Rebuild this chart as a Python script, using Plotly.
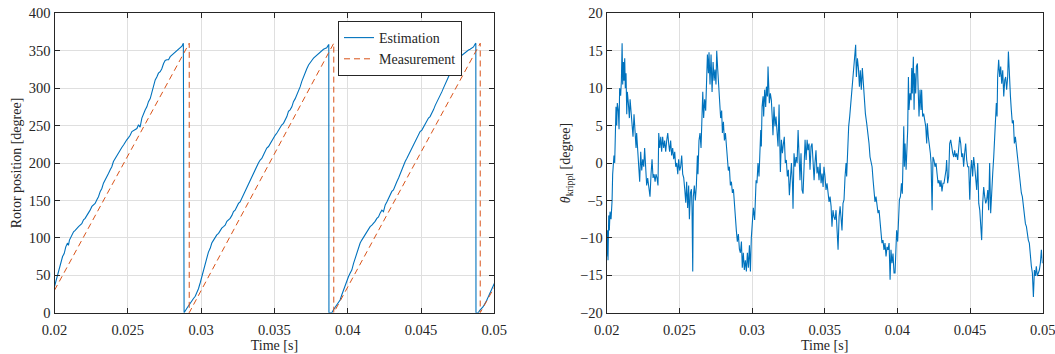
import plotly.graph_objects as go

# ---------------- data (time in ms, angles in degree) ----------------
est_t_ms = [
    20.00, 20.11, 20.20, 20.32, 20.43, 20.55, 20.66, 20.77, 20.89, 20.95, 21.02, 21.11, 21.21, 21.30,
    21.41, 21.52, 21.64, 21.75, 21.86, 21.98, 22.09, 22.21, 22.32, 22.43, 22.55, 22.66, 22.77, 22.89,
    23.00, 23.12, 23.23, 23.34, 23.46, 23.57, 23.68, 23.80, 23.91, 24.02, 24.14, 24.25, 24.37, 24.48,
    24.60, 24.71, 24.82, 24.93, 25.05, 25.16, 25.28, 25.39, 25.50, 25.62, 25.73, 25.84, 25.96, 26.07,
    26.19, 26.30, 26.41, 26.53, 26.64, 26.75, 26.87, 26.98, 27.09, 27.21, 27.32, 27.44, 27.55, 27.66,
    27.78, 27.89, 28.00, 28.12, 28.23, 28.34, 28.46, 28.57, 28.69, 28.79, 28.80, 28.81, 28.82, 28.84,
    29.03, 29.25, 29.48, 29.60, 29.71, 29.82, 29.94,
    30.05, 30.16, 30.28, 30.39, 30.50, 30.62, 30.73, 30.85, 30.96, 31.07, 31.19, 31.30, 31.41, 31.53,
    31.64, 31.76, 31.87, 31.98, 32.10, 32.21, 32.32, 32.44, 32.55, 32.66, 32.78, 32.89, 33.01, 33.12,
    33.23, 33.35, 33.46, 33.57, 33.69, 33.80, 33.91, 34.03, 34.14, 34.26, 34.37, 34.48, 34.60, 34.71,
    34.82, 34.94, 35.05, 35.17, 35.28, 35.39, 35.51, 35.62, 35.73, 35.85, 35.96, 36.07, 36.19, 36.30,
    36.42, 36.53, 36.64, 36.76, 36.87, 36.98, 37.10, 37.21, 37.33, 37.44, 37.55, 37.67, 37.78, 37.89,
    38.01, 38.12, 38.23, 38.35, 38.46, 38.57, 38.69, 38.71, 38.72, 38.92, 39.03, 39.26, 39.48,
    39.60, 39.71, 39.83, 39.94, 40.05, 40.17, 40.28, 40.40, 40.51, 40.62, 40.74, 40.85, 40.96, 41.08,
    41.19, 41.30, 41.42, 41.53, 41.65, 41.76, 41.87, 41.99, 42.10, 42.21, 42.33, 42.44, 42.56, 42.67,
    42.78, 42.90, 43.01, 43.12, 43.24, 43.35, 43.47, 43.58, 43.69, 43.81, 43.92, 44.03, 44.15, 44.26,
    44.37, 44.49, 44.60, 44.72, 44.83, 44.94, 45.06, 45.17, 45.28, 45.40, 45.51, 45.62, 45.74, 45.85,
    45.97, 46.08, 46.19, 46.31, 46.42, 46.53, 46.65, 46.76, 46.87, 46.99, 47.10, 47.22, 47.33, 47.44,
    47.56, 47.67, 47.78, 47.90, 48.01, 48.12, 48.24, 48.35, 48.47, 48.58, 48.69, 48.74, 48.75, 48.90,
    49.01, 49.24, 49.47, 49.69, 49.92, 50.00,
]
est_deg = [
    35, 43, 50, 57, 66, 75, 79, 88, 93, 90, 97, 101, 106, 108,
    110, 113, 115, 117, 119, 124, 126, 130, 133, 137, 142, 144, 146, 151,
    155, 162, 166, 173, 177, 182, 186, 191, 195, 202, 206, 211, 214, 217,
    221, 224, 228, 231, 234, 237, 242, 243, 244, 246, 251, 248, 260, 266,
    271, 275, 282, 286, 295, 304, 311, 315, 320, 322, 326, 333, 337, 338,
    338, 342, 344, 346, 349, 351, 352, 354, 356, 360, 0, 358, 0, 0,
    6, 13, 19, 22, 26, 32, 40,
    48, 57, 64, 73, 81, 86, 93, 97, 101, 104, 106, 110, 113, 115,
    117, 122, 124, 126, 130, 135, 137, 142, 146, 148, 153, 157, 164, 168,
    173, 177, 182, 186, 191, 195, 200, 204, 206, 211, 215, 220, 222, 226,
    228, 233, 237, 240, 244, 246, 251, 253, 257, 262, 269, 271, 275, 282,
    286, 291, 295, 302, 309, 315, 320, 326, 331, 335, 337, 340, 342, 344,
    346, 349, 351, 352, 353, 354, 358, 358, 0, 0, 4, 10, 17,
    24, 30, 37, 44, 48, 53, 57, 66, 73, 79, 86, 93, 97, 101,
    104, 108, 113, 115, 117, 119, 122, 126, 128, 133, 137, 135, 144, 148,
    153, 157, 162, 164, 171, 175, 180, 186, 191, 197, 202, 206, 211, 215,
    220, 224, 228, 233, 237, 242, 244, 248, 253, 257, 260, 262, 266, 271,
    277, 282, 286, 291, 295, 300, 306, 311, 315, 320, 324, 331, 337, 340,
    342, 342, 344, 346, 347, 349, 351, 352, 353, 355, 359, 360, 0, 0,
    3, 8, 16, 25, 35, 39,
]

meas_t_ms = [20.00, 29.19, 29.19, 39.05, 39.05, 49.04, 49.04, 50.00]
meas_deg = [30, 360, 0, 360, 0, 360, 0, 34]

ripple_t_ms = [
    20.00, 20.05, 20.09, 20.14, 20.18, 20.23, 20.30, 20.37, 20.41, 20.46, 20.50, 20.55, 20.60, 20.64,
    20.69, 20.73, 20.80, 20.85, 20.89, 20.96, 21.01, 21.06, 21.10, 21.15, 21.19, 21.24, 21.28, 21.33,
    21.38, 21.42, 21.49, 21.56, 21.61, 21.67, 21.74, 21.81, 21.88, 21.95, 22.02, 22.06, 22.13, 22.20,
    22.27, 22.34, 22.41, 22.48, 22.55, 22.61, 22.68, 22.75, 22.82, 22.89, 22.98, 23.05, 23.12, 23.19,
    23.26, 23.33, 23.39, 23.46, 23.53, 23.58, 23.65, 23.72, 23.78, 23.85, 23.92, 23.99, 24.06, 24.13,
    24.20, 24.27, 24.33, 24.40, 24.47, 24.54, 24.61, 24.68, 24.75, 24.82, 24.89, 24.95, 25.02, 25.09,
    25.16, 25.23, 25.30, 25.37, 25.44, 25.50, 25.57, 25.64, 25.69, 25.76, 25.83, 25.87, 25.92, 25.96,
    26.03, 26.10, 26.17, 26.24, 26.28, 26.35, 26.42, 26.49, 26.56, 26.61, 26.67, 26.74, 26.81, 26.88,
    26.93, 27.00, 27.04, 27.11, 27.18, 27.25, 27.32, 27.39, 27.45, 27.52, 27.57, 27.64, 27.71, 27.78,
    27.84, 27.91, 27.96, 28.03, 28.10, 28.17, 28.23, 28.30, 28.37, 28.44, 28.51, 28.58, 28.65, 28.72,
    28.78, 28.85, 28.92, 28.99, 29.06, 29.13, 29.20, 29.27, 29.33, 29.40, 29.47, 29.54, 29.61, 29.68,
    29.75, 29.82, 29.89, 29.95, 30.02, 30.09,
    30.18, 30.23, 30.28, 30.34, 30.41, 30.48, 30.55, 30.60, 30.64, 30.69, 30.76, 30.80, 30.87, 30.94,
    30.99, 31.06, 31.10, 31.15, 31.19, 31.26, 31.33, 31.40, 31.44, 31.51, 31.58, 31.65, 31.72, 31.79,
    31.86, 31.90, 31.95, 32.02, 32.09, 32.16, 32.22, 32.29, 32.36, 32.43, 32.50, 32.57, 32.64, 32.71,
    32.78, 32.82, 32.89, 32.96, 33.03, 33.10, 33.17, 33.23, 33.30, 33.37, 33.44, 33.51, 33.58, 33.65,
    33.72, 33.79, 33.85, 33.92, 33.99, 34.06, 34.13, 34.20, 34.27, 34.33, 34.40, 34.47, 34.54, 34.61,
    34.68, 34.75, 34.82, 34.89, 34.95, 35.02, 35.09, 35.16, 35.23, 35.30, 35.37, 35.44, 35.50, 35.57,
    35.64, 35.71, 35.78, 35.85, 35.92, 35.99, 36.06, 36.12, 36.19, 36.26, 36.33, 36.40, 36.47, 36.51,
    36.58, 36.65, 36.72, 36.81, 36.88, 36.97, 37.06, 37.13, 37.18, 37.25, 37.32, 37.39, 37.45, 37.52,
    37.59, 37.66, 37.73, 37.80, 37.89, 37.98, 38.05, 38.12, 38.19, 38.26, 38.33, 38.39, 38.46, 38.53,
    38.60, 38.67, 38.74, 38.81, 38.88, 38.94, 39.01, 39.08, 39.15, 39.22, 39.29, 39.36, 39.43, 39.50,
    39.56, 39.63, 39.70, 39.77,
    39.84, 39.89, 39.95, 40.02, 40.09, 40.14, 40.21, 40.28, 40.34, 40.39, 40.44, 40.48, 40.53, 40.60,
    40.64, 40.71, 40.76, 40.80, 40.87, 40.94, 40.99, 41.03, 41.10, 41.15, 41.19, 41.26, 41.31, 41.38,
    41.44, 41.49, 41.56, 41.63, 41.67, 41.74, 41.81, 41.88, 41.95, 42.02, 42.06, 42.13, 42.20, 42.27,
    42.32, 42.39, 42.45, 42.52, 42.59, 42.66, 42.73, 42.80, 42.87, 42.94, 43.00, 43.07, 43.14, 43.21,
    43.28, 43.35, 43.39, 43.46, 43.53, 43.60, 43.67, 43.74, 43.81, 43.88, 43.94, 44.01, 44.08, 44.15,
    44.22, 44.29, 44.36, 44.43, 44.50, 44.56, 44.63, 44.70, 44.77, 44.84, 44.91, 44.98, 45.05, 45.11,
    45.18, 45.25, 45.32, 45.39, 45.46, 45.53, 45.60, 45.67, 45.73, 45.80, 45.87, 45.94, 46.01, 46.08,
    46.15, 46.22, 46.28, 46.35, 46.42, 46.49, 46.56, 46.63, 46.70, 46.77, 46.81, 46.86, 46.90, 46.97,
    47.04, 47.11, 47.18, 47.25, 47.32, 47.39, 47.45, 47.52, 47.59, 47.64, 47.71, 47.78, 47.84, 47.91,
    47.98, 48.05, 48.12, 48.19, 48.26, 48.33, 48.39, 48.46, 48.53, 48.60, 48.67, 48.74, 48.81, 48.88,
    48.94, 49.01, 49.08, 49.15, 49.22, 49.29, 49.36, 49.43, 49.50, 49.56, 49.63, 49.70, 49.77, 49.84,
    49.91, 49.98,
]
ripple_deg = [
    -12.5, -9, -13, -7, -9, -6.5, -7.5, -5, -1.5, -0.5, 1, 0, 3, 7.5,
    5, 8, 7, 4.5, 10, 9, 11, 16, 10.5, 13.5, 11, 14, 10, 12,
    6.5, 9.5, 8, 6, 8.5, 7, 6.5, 3.5, 6.5, 4, 2, 4, 2, 0.5,
    -2.5, 1.5, -1, 0.5, -0.5, 2, -1.5, -3, -2, -3, -4.5, -1.5, 0.5, -2,
    -1.5, -2.5, -1.5, -2, -3, 4, 2, 3.5, 1.5, 3.5, 2, 3, 1.5, 3,
    4, 2.5, 1.5, 3, 1, 2, 0.5, 1.5, -0.5, 0, -1.5, 0.5, -1, -0.5,
    1, -1.5, -2, -3.5, -5.3, -2.5, -6, -3, -7.5, -4, -3.5, -6, -14.5, -4.5,
    -3, -5, -3, 1, -1.5, 3, 4, 2, 8, 9.5, 6, 8.5, 7, 10.5,
    14.5, 12, 14.8, 10.5, 14.5, 9.5, 13.5, 11, 12.5, 10.5, 15, 12.5, 10, 9,
    6, 7, 4, 5.5, 3, 4, 2, 1, -1, -0.5, -3, -2.5, -4, -3.5,
    -5.5, -7, -9, -10.5, -9.5, -11.5, -12, -10.5, -14, -12, -14.3, -13, -14.5, -12,
    -14, -11, -14.5, -10, -8, -6,
    -7.6, -5.8, -2.3, -2.7, 0, -1.8, 2.2, 4.4, 2.2, 7.5, 8.9, 6.2, 9.8, 7.5,
    10.2, 8.9, 12.9, 10.6, 8.0, 9.3, 8.4, 5.7, 3.7, 7.5, 4.9, 6.2, 4.4, 2.2,
    7.8, 2.6, -1.2, 3.1, 1.3, 2.6, 3.5, 0, 0.4, -1.8, -0.9, -4.3, -1.4, 0,
    -2.7, -6.1, 1.3, -0.5, 0.8, 0, 4.4, 0, -2.3, 1.3, -3.6, -4.1, 0.8, 3.1,
    0.4, 3.1, 1.7, 2.6, -0.9, 2.2, 2.6, 0.8, -2.3, 0, 1.7, -1.4, -0.5, -2.3,
    0, -2.7, -1.4, -3.2, -0.5, -1.8, -3.6, -2.7, -4.1, -5.2, -4.5, -5.8, -8.5, -6.3,
    -7.2, -7.6, -6.3, -8.7, -11.6, -7.2, -5.8, -7.2, -9.0, -5.4, -4.9, -1.8, 0, -1.8,
    2.2, 4.9, 6.2, 8.4, 9.8, 11.1, 13.3, 15.8, 11.5, 14.0, 12.7, 10.2, 12.4, 9.8,
    12.7, 10.2, 8.9, 6.6, 5.3, 4.0, 2.6, 0.8, 0, -0.5, -2.3, -3.6, -5.2, -4.5,
    -5.8, -6.7, -6.3, -7.6, -9.0, -10.7, -10.3, -11.6, -10.7, -12.5, -11.2, -11.6, -10.7, -15.6,
    -11.6, -13.4, -12.1, -14.7,
    -14.7, -10.7, -9.0, -10.5, -8.0, -4.9, -4.5, -2.7, -4.1, 2.2, 4.9, -0.5, 2.6, -0.9,
    1.7, 4.4, 11.5, 7.1, 9.3, 8.4, 12.7, 9.3, 14.2, 7.1, 12.0, 9.3, 12.9, 13.3,
    9.3, 6.2, 9.8, 7.1, 9.8, 6.2, 6.6, 5.3, 4.9, 2.6, 5.3, 3.5, 2.6, 1.3,
    0, -6.3, 0.8, 0.4, -0.5, 0, -1.4, -2.7, -2.3, -3.2, -2.3, -3.8, -2.7, -2.7,
    -1.8, -0.9, 0.4, -2.7, -1.8, 2.6, 3.1, 1.7, 1.3, 0.8, 1.7, 0.8, 1.3, 0.4,
    2.2, 3.5, 2.6, 0.8, 1.3, -0.5, 1.3, 2.6, 0.4, -0.5, -0.5, -4.9, -0.9, 0.4,
    -1.8, 0.8, -0.5, -2.7, -3.6, 0, -5.4, -6.3, -8.1, -10.3, -5.4, -3.2, -4.5, -5.4,
    -4.9, -3.6, -6.3, 0, -6.7, -2.7, -1.4, 0.8, 3.5, 6.2, 8.0, 6.2, 11.5, 13.8,
    11.5, 12.9, 10.6, 12.4, 8.9, 11.1, 11.5, 9.8, 11.5, 14.9, 10.2, 8.9, 7.1, 5.3,
    5.7, 2.6, 3.5, 2.2, 1.3, 0.4, -0.9, -2.7, -4.0, -4.5, -5.8, -6.7, -8.1, -8.5,
    -9.4, -10.3, -10.7, -12.5, -13.8, -14.7, -17.9, -14.3, -15.1, -13.8, -15.1, -14.7, -14.3, -13.4,
    -11.6, -13.4,
]

x_ticks = [0.02, 0.025, 0.03, 0.035, 0.04, 0.045, 0.05]
x_tick_text = ["0.02", "0.025", "0.03", "0.035", "0.04", "0.045", "0.05"]
left_y_ticks = [0, 50, 100, 150, 200, 250, 300, 350, 400]
right_y_ticks = [-20, -15, -10, -5, 0, 5, 10, 15, 20]

# ---------------- figure ----------------
BLUE = "#0072BD"
ORANGE = "#D95319"
INK = "#262626"
GRID = "#dfdfdf"
FONT = "Liberation Serif"
W, H = 1055, 354

fig = go.Figure()
fig.add_trace(go.Scatter(
    x=[t / 1000 for t in est_t_ms], y=est_deg, mode="lines", name="Estimation",
    line=dict(color=BLUE, width=1.1), xaxis="x", yaxis="y"))
fig.add_trace(go.Scatter(
    x=[t / 1000 for t in meas_t_ms], y=meas_deg, mode="lines", name="Measurement",
    line=dict(color=ORANGE, width=1, dash="6px,4px"), xaxis="x", yaxis="y"))
fig.add_trace(go.Scatter(
    x=[t / 1000 for t in ripple_t_ms], y=ripple_deg, mode="lines", showlegend=False,
    line=dict(color=BLUE, width=1.1), xaxis="x2", yaxis="y2"))

TICKFONT = dict(family=FONT, size=14.5, color=INK)
TITLEFONT = dict(family=FONT, size=14, color=INK)

def xax(domain, anchor):
    return dict(domain=domain, anchor=anchor, range=[0.02, 0.05], tickvals=x_ticks,
                ticktext=x_tick_text, showgrid=True, gridcolor=GRID, gridwidth=1,
                zeroline=False, showline=True, linecolor=INK, linewidth=1, mirror="ticks",
                ticks="inside", ticklen=5, tickcolor=INK, tickwidth=1, automargin=False,
                ticklabelstandoff=4, ticklabeloverflow="allow", tickfont=TICKFONT,
                title=dict(text="Time [s]", font=TITLEFONT, standoff=3))

def yax(domain, anchor, rng, ticks, title, standoff):
    return dict(domain=domain, anchor=anchor, range=rng, tickvals=ticks,
                showgrid=True, gridcolor=GRID, gridwidth=1,
                zeroline=False, showline=True, linecolor=INK, linewidth=1, mirror="ticks",
                ticks="inside", ticklen=5, tickcolor=INK, tickwidth=1, automargin=False,
                ticklabeloverflow="allow", tickfont=TICKFONT,
                title=dict(text=title, font=TITLEFONT, standoff=standoff))

ydom = [1 - 312.7 / H, 1 - 13.3 / H]
fig.update_layout(
    width=W, height=H, margin=dict(l=0, r=0, t=0, b=0),
    paper_bgcolor="white", plot_bgcolor="white",
    font=dict(family=FONT, size=14, color=INK),
    xaxis=xax([54.5 / W, 494.3 / W], "y"),
    yaxis=yax(ydom, "x", [0, 400], left_y_ticks, "Rotor position [degree]", 3),
    xaxis2=xax([606.7 / W, 1042.7 / W], "y2"),
    yaxis2=yax(ydom, "x2", [-20, 20], right_y_ticks,
               "<i>θ</i><sub>krippl</sub> [degree]", 6),
    legend=dict(x=338 / W, y=1 - 21 / H, xanchor="left", yanchor="top",
                bgcolor="white", bordercolor=INK, borderwidth=1,
                font=dict(family=FONT, size=14, color=INK), itemwidth=30,
                tracegroupgap=0),
    showlegend=True,
)

fig.write_html("out.html", config={"displayModeBar": False},
               post_script="document.body.style.margin='0';")
